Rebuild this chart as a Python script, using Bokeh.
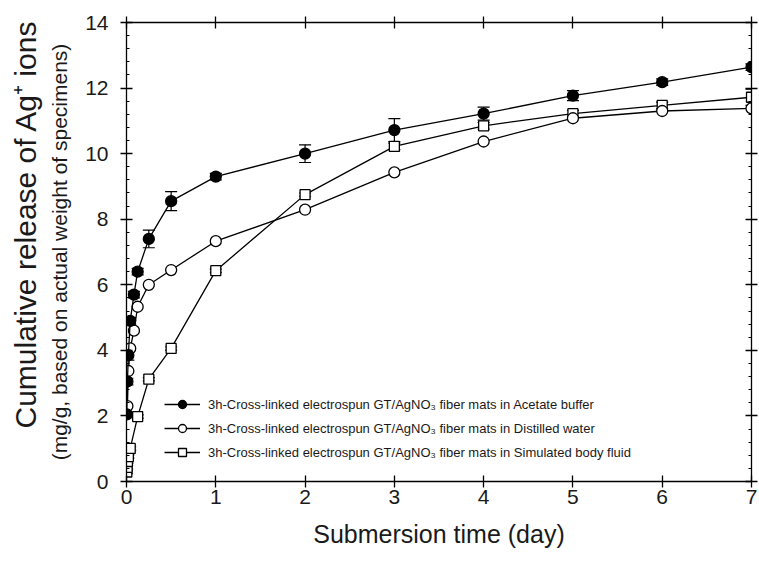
from bokeh.plotting import figure
from bokeh.models import (LinearAxis, Range1d, FixedTicker, Title, Whisker, TeeHead,
                          ColumnDataSource, Legend, LegendItem, CustomJSTickFormatter)
from bokeh.embed import file_html
from bokeh.resources import INLINE

# ---- data (days, mg/g) ----
t_acetate = [0.0035, 0.0104, 0.0208, 0.0417, 0.0833, 0.125, 0.25, 0.5, 1, 2, 3, 4, 5, 6, 7]
y_acetate = [2.05, 3.05, 3.85, 4.9, 5.7, 6.4, 7.4, 8.55, 9.3, 10.0, 10.72, 11.22, 11.77, 12.18, 12.64]
e_acetate = [0.05, 0.1, 0.15, 0.1, 0.1, 0.1, 0.27, 0.29, 0.1, 0.27, 0.35, 0.2, 0.15, 0.1, 0.1]

t_water = [0.0104, 0.0208, 0.0417, 0.0833, 0.125, 0.25, 0.5, 1, 2, 3, 4, 5, 6, 7]
y_water = [2.3, 3.37, 4.06, 4.6, 5.33, 6.0, 6.45, 7.33, 8.29, 9.43, 10.37, 11.08, 11.3, 11.38]

t_sbf = [0.0035, 0.0069, 0.0104, 0.0208, 0.0417, 0.125, 0.25, 0.5, 1, 2, 3, 4, 5, 6, 7]
y_sbf = [0.29, 0.43, 0.61, 0.76, 1.01, 1.98, 3.12, 4.06, 6.43, 8.75, 10.22, 10.85, 11.22, 11.47, 11.72]
e_sbf = [0.05, 0.05, 0.05, 0.05, 0.05, 0.05, 0.05, 0.05, 0.05, 0.05, 0.1, 0.1, 0.1, 0.1, 0.25]

x_ticks = [0, 1, 2, 3, 4, 5, 6, 7]
y_ticks = [0, 2, 4, 6, 8, 10, 12, 14]

labels = [
    "3h-Cross-linked electrospun GT/AgNO\u2083 fiber mats in Acetate buffer",
    "3h-Cross-linked electrospun GT/AgNO\u2083 fiber mats in Distilled water",
    "3h-Cross-linked electrospun GT/AgNO\u2083 fiber mats in Simulated body fluid",
]
x_title = "Submersion time (day)"
y_title = "Cumulative release of Ag\u207a ions"
y_subtitle = "(mg/g, based on actual weight of specimens)"

FONT = "Liberation Sans"
TXT = "#1a1a1a"

p = figure(width=759, height=561, output_backend="svg", toolbar_location=None,
           x_range=Range1d(0, 7), y_range=Range1d(0, 14),
           min_border_left=126, min_border_right=8, min_border_top=22, min_border_bottom=80,
           x_axis_label=x_title)
p.outline_line_color = None
p.grid.visible = False
p.background_fill_color = "white"

def style_axis(ax, ticks, minor, show_labels):
    ax.ticker = FixedTicker(ticks=ticks, minor_ticks=minor)
    ax.axis_line_color = "black"
    ax.axis_line_width = 1.3
    ax.major_tick_line_color = "black"
    ax.major_tick_line_width = 1.3
    ax.major_tick_in = 6
    ax.major_tick_out = 6
    ax.minor_tick_line_color = "black"
    ax.minor_tick_in = 3
    ax.minor_tick_out = 0
    ax.major_label_text_font = FONT
    ax.major_label_text_color = TXT
    if show_labels:
        ax.major_label_text_font_size = "21px"
    else:
        ax.formatter = CustomJSTickFormatter(code="return ''")
        ax.major_label_standoff = 0

y_minor = [round(0.4 * i, 2) for i in range(36)]

xa = p.xaxis[0]
style_axis(xa, x_ticks, [], True)
xa.major_label_standoff = 2
xa.axis_label_text_font = FONT
xa.axis_label_text_font_size = "25px"
xa.axis_label_text_font_style = "normal"
xa.axis_label_text_color = TXT
xa.axis_label_standoff = 13

ya = p.yaxis[0]
style_axis(ya, y_ticks, y_minor, True)
ya.major_label_standoff = 12

top = LinearAxis()
style_axis(top, x_ticks, [], False)
p.add_layout(top, "above")

right = LinearAxis()
style_axis(right, y_ticks, y_minor, False)
p.add_layout(right, "right")

# y titles (two lines of different size)
sub = Title(text=y_subtitle, text_font=FONT, text_font_size="21px", text_font_style="normal",
            align="center", text_color=TXT, standoff=23, offset=0)
p.add_layout(sub, "left")
main = Title(text=y_title, text_font=FONT, text_font_size="30px", text_font_style="normal",
             align="left", text_color=TXT, standoff=-15, offset=53)
p.add_layout(main, "left")

# error bars
src_a = ColumnDataSource(dict(x=t_acetate, y=y_acetate,
                              up=[v + e for v, e in zip(y_acetate, e_acetate)],
                              lo=[v - e for v, e in zip(y_acetate, e_acetate)]))
src_s = ColumnDataSource(dict(x=t_sbf, y=y_sbf,
                              up=[v + e for v, e in zip(y_sbf, e_sbf)],
                              lo=[v - e for v, e in zip(y_sbf, e_sbf)]))
src_w = ColumnDataSource(dict(x=t_water, y=y_water))

for src in (src_a, src_s):
    w = Whisker(base="x", upper="up", lower="lo", source=src, line_color="black", line_width=1.2,
                upper_head=TeeHead(size=12, line_color="black", line_width=1.2),
                lower_head=TeeHead(size=12, line_color="black", line_width=1.2),
                level="underlay")
    p.add_layout(w)

LW = 1.3
ls = p.line("x", "y", source=src_s, line_color="black", line_width=LW)
ms = p.scatter("x", "y", source=src_s, marker="square", size=10, fill_color="white",
               line_color="black", line_width=LW)
lw_ = p.line("x", "y", source=src_w, line_color="black", line_width=LW)
mw = p.scatter("x", "y", source=src_w, marker="circle", size=11, fill_color="white",
               line_color="black", line_width=LW)
la = p.line("x", "y", source=src_a, line_color="black", line_width=LW)
ma = p.scatter("x", "y", source=src_a, marker="circle", size=11, fill_color="black",
               line_color="black", line_width=LW)

legend = Legend(items=[
    LegendItem(label=labels[0], renderers=[la, ma]),
    LegendItem(label=labels[1], renderers=[lw_, mw]),
    LegendItem(label=labels[2], renderers=[ls, ms]),
], location=(38, 19))
legend.border_line_color = None
legend.background_fill_alpha = 0
legend.padding = 0
legend.margin = 0
legend.spacing = 4
legend.glyph_width = 36
legend.glyph_height = 20
legend.label_standoff = 8
legend.label_text_font = FONT
legend.label_text_font_size = "13px"
legend.label_text_color = TXT
p.add_layout(legend)

open("out.html", "w").write(file_html(p, INLINE))
